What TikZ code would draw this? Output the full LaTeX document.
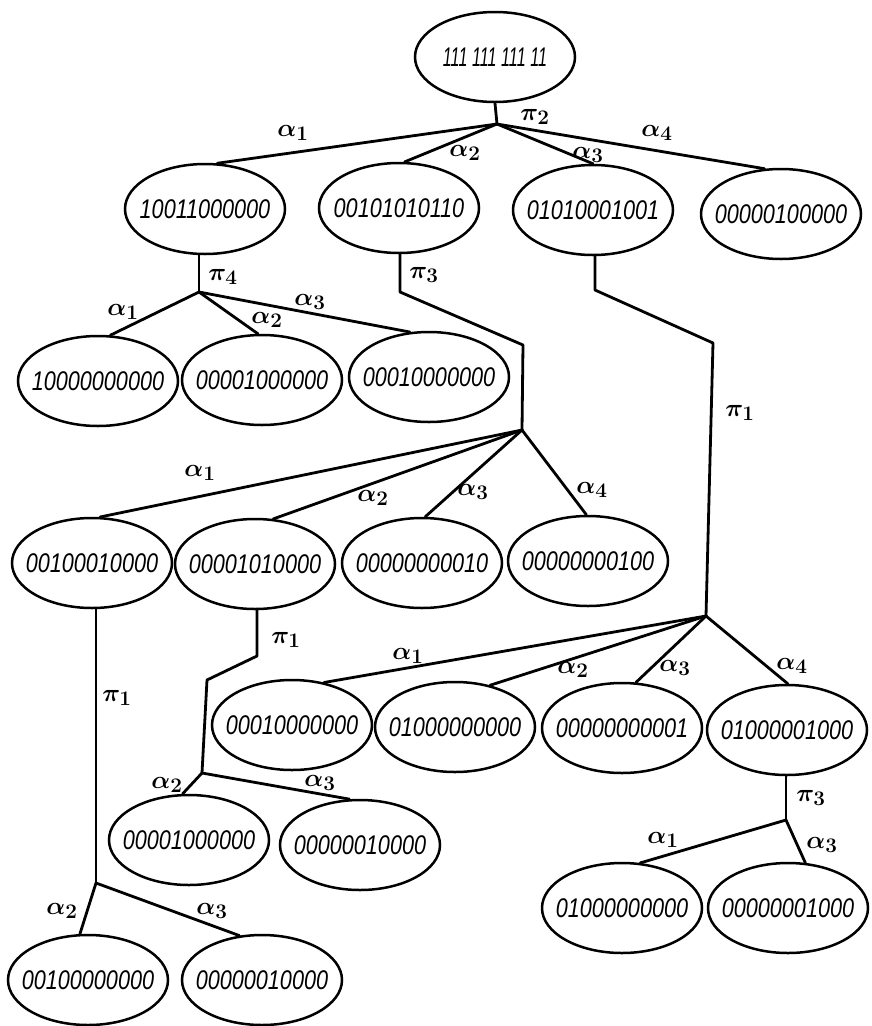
\documentclass[tikz,border=0pt]{standalone}
\usepackage{fontspec}
\setmainfont{Liberation Sans}
\usepackage{graphicx}
\usetikzlibrary{shapes.geometric}
\tikzset{
  state/.style={draw, ellipse, line width=2.5pt, minimum width=160pt, minimum height=90pt, inner sep=0pt},
  link/.style={line width=2.8pt, line join=round, line cap=round},
  lab/.style={inner sep=0pt, font=\fontsize{31}{31}\selectfont\boldmath},
}
\newcommand{\bits}[2][0.8]{\makebox[0pt]{\fontsize{27}{27}\selectfont\itshape\scalebox{#1}[1]{#2}}}
\begin{document}
\begin{tikzpicture}[x=1pt,y=-1pt]
\useasboundingbox (0,0) rectangle (871,1026);
% nodes
\node[state] (root) at (495,57) {\bits[0.6]{111 111 111 11}};
\node[state] (a1) at (205,209) {\bits{10011000000}};
\node[state] (a2) at (399,208) {\bits{00101010110}};
\node[state] (a3) at (593,210) {\bits{01010001001}};
\node[state] (a4) at (781,214) {\bits{00000100000}};
\node[state] (b1) at (98,381) {\bits{10000000000}};
\node[state] (b2) at (262,380) {\bits{00001000000}};
\node[state] (b3) at (429,377) {\bits{00010000000}};
\node[state] (c1) at (92,563) {\bits{00100010000}};
\node[state] (c2) at (255,564) {\bits{00001010000}};
\node[state] (c3) at (422,563) {\bits{00000000010}};
\node[state] (c4) at (588,561) {\bits{00000000100}};
\node[state] (d1) at (292,725) {\bits{00010000000}};
\node[state] (d2) at (455,727) {\bits{01000000000}};
\node[state] (d3) at (622,728) {\bits{00000000001}};
\node[state] (d4) at (787,730) {\bits{01000001000}};
\node[state] (e1) at (189,840) {\bits{00001000000}};
\node[state] (e2) at (360,845) {\bits{00000010000}};
\node[state] (f1) at (88,980) {\bits{00100000000}};
\node[state] (f2) at (262,980) {\bits{00000010000}};
\node[state] (g1) at (622,908) {\bits{01000000000}};
\node[state] (g2) at (788,908) {\bits{00000001000}};
% junctions and bends
\coordinate (J0) at (497,124);
\coordinate (J4) at (199,292);
\coordinate (B2a) at (400,292);
\coordinate (B2b) at (523,345);
\coordinate (J2) at (522,430);
\coordinate (B3a) at (595,290);
\coordinate (B3b) at (713,343);
\coordinate (J3) at (706,616);
\coordinate (B5a) at (257,656);
\coordinate (B5b) at (207,680);
\coordinate (J5) at (202,773);
\coordinate (J6) at (96,883);
\coordinate (J7) at (786,820);
% connectors
\draw[link] (root.south) -- (J0);
\draw[link] (J0) -- (a1.75);
\draw[link] (J0) -- (a2.83);
\draw[link] (J0) -- (a3.90);
\draw[link] (J0) -- (a4.110);
\draw[link] (a1.south -| J4) -- (J4);
\draw[link] (J4) -- (b1.75);
\draw[link] (J4) -- (b2.95);
\draw[link] (J4) -- (b3.113);
\draw[link] (a2.south -| B2a) -- (B2a) -- (B2b) -- (J2);
\draw[link] (J2) -- (c1.80);
\draw[link] (J2) -- (c2.68);
\draw[link] (J2) -- (c3.86);
\draw[link] (J2) -- (c4.92);
\draw[link] (a3.south -| B3a) -- (B3a) -- (B3b) -- (J3);
\draw[link] (J3) -- (d1.53);
\draw[link] (J3) -- (d2.50);
\draw[link] (J3) -- (d3.73);
\draw[link] (J3) -- (d4.89);
\draw[link] (c2.south -| B5a) -- (B5a) -- (B5b) -- (J5);
\draw[link] (J5) -- (e1.98);
\draw[link] (J5) -- (e2.103);
\draw[link, line width=2.2pt] (c1.south -| J6) -- (J6);
\draw[link] (J6) -- (f1.100);
\draw[link] (J6) -- (f2.117);
\draw[link] (d4.south -| J7) -- (J7);
\draw[link] (J7) -- (g1.68);
\draw[link] (J7) -- (g2.69);
% labels
\node[lab] (l0) at (535,117) {$\pi_2$};
\node[lab] (l1) at (293,133) {$\alpha_1$};
\node[lab] (l2) at (465,153) {$\alpha_2$};
\node[lab] (l3) at (588,155) {$\alpha_3$};
\node[lab] (l4) at (657,133) {$\alpha_4$};
\node[lab] (l5) at (223,277) {$\pi_4$};
\node[lab] (l6) at (123,312) {$\alpha_1$};
\node[lab] (l7) at (267,320) {$\alpha_2$};
\node[lab] (l8) at (310,302) {$\alpha_3$};
\node[lab] (l9) at (424,275) {$\pi_3$};
\node[lab] (l10) at (740,413) {$\pi_1$};
\node[lab] (l11) at (200,473) {$\alpha_1$};
\node[lab] (l12) at (373,498) {$\alpha_2$};
\node[lab] (l13) at (473,492) {$\alpha_3$};
\node[lab] (l14) at (592,490) {$\alpha_4$};
\node[lab] (l15) at (117,698) {$\pi_1$};
\node[lab] (l16) at (286,640) {$\pi_1$};
\node[lab] (l17) at (408,656) {$\alpha_1$};
\node[lab] (l18) at (573,670) {$\alpha_2$};
\node[lab] (l19) at (675,668) {$\alpha_3$};
\node[lab] (l20) at (792,666) {$\alpha_4$};
\node[lab] (l21) at (167,785) {$\alpha_2$};
\node[lab] (l22) at (320,783) {$\alpha_3$};
\node[lab] (l23) at (62,911) {$\alpha_2$};
\node[lab] (l24) at (212,911) {$\alpha_3$};
\node[lab] (l25) at (811,798) {$\pi_3$};
\node[lab] (l26) at (663,840) {$\alpha_1$};
\node[lab] (l27) at (822,845) {$\alpha_3$};
\end{tikzpicture}
\end{document}
